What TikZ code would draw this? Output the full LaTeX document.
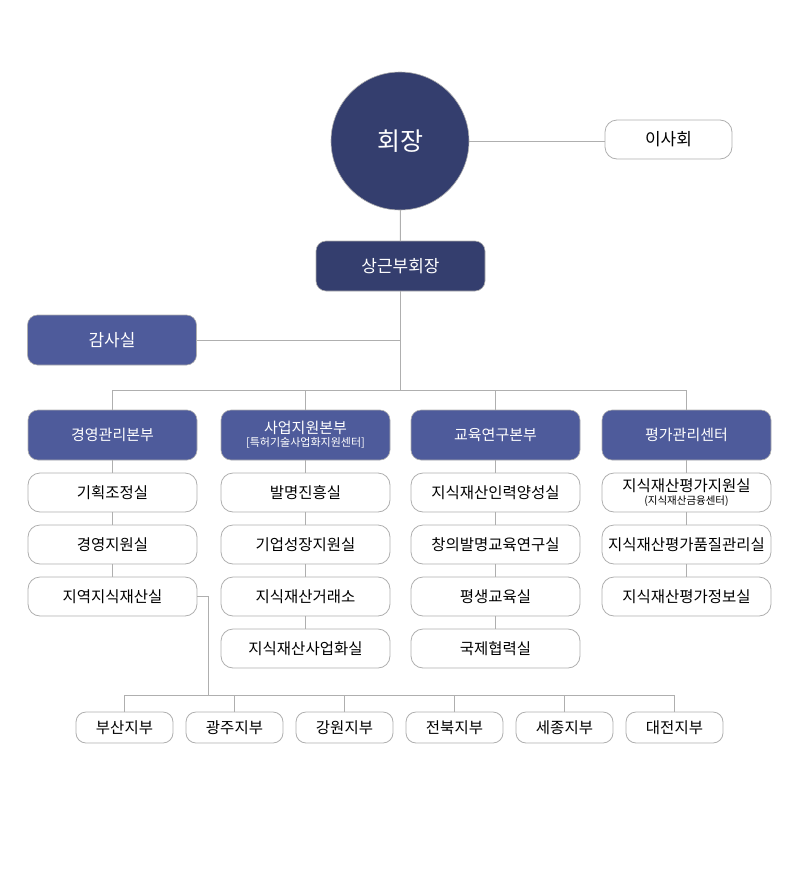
\documentclass[tikz,border=0pt]{standalone}
\usepackage{fontspec}
\setmainfont{Noto Sans CJK KR}
\usetikzlibrary{positioning}
\definecolor{navy}{RGB}{52,62,110}
\definecolor{slate}{RGB}{78,91,155}
\definecolor{edge}{RGB}{175,175,175}
\newcommand{\fs}[1]{\fontsize{#1}{#1}\selectfont}
\tikzset{
        every node/.style={align=center,outer sep=0pt,inner sep=2pt},
        chief/.style={circle,fill=navy,draw=edge,line width=0.6pt,minimum size=138pt,text=white,font=\fs{25}},
        vice/.style={rounded corners=10pt,fill=navy,draw=edge,line width=0.6pt,minimum width=169pt,minimum height=50pt,text=white,font=\fs{17}},
        head/.style={rounded corners=10pt,fill=slate,draw=edge,line width=0.6pt,minimum width=169pt,minimum height=50pt,text=white,font=\fs{15}},
        unit/.style={rounded corners=12pt,fill=white,draw=edge,line width=0.8pt,minimum width=169pt,minimum height=39pt,font=\fs{15.5}},
        branch/.style={rounded corners=10pt,fill=white,draw=edge,line width=0.8pt,minimum width=97pt,minimum height=31pt,font=\fs{15.5}},
        link/.style={draw=edge,line width=1pt},
        }

\begin{document}
\begin{tikzpicture}[x=1pt,y=-1pt]
			\useasboundingbox (0,0) rectangle (800,889);

			% top
			\node [chief] (chair) at (400,141) {회장};
			\node [unit,minimum width=127pt,font=\fs{17}] (board) at (668.5,139.5) {이사회};
			\node [vice] (vice) at (400.5,266) {상근부회장};
			\node [head,font=\fs{17}] (audit) at (112,340) {감사실};

			\draw [link] (chair.east) -- (chair.east -| board.west);
			\draw [link] (chair) -- (vice);
			\coordinate (bus) at (400.5,390);
			\draw [link] (vice.south) -- (bus);
			\draw [link] (audit.east) -- (audit.east -| vice.south);

			% divisions
			\node [head] (mgmt) at (112.5,435) {경영관리본부};
			\node [head] (biz) at (305.5,435) {사업지원본부\\[-2pt]{\fs{11}[특허기술사업화지원센터]}};
			\node [head] (edu) at (495.5,435) {교육연구본부};
			\node [head] (eval) at (686.5,435) {평가관리센터};

			\draw [link] (mgmt.north) |- (eval.north |- bus) -- (eval.north);
			\draw [link] (biz.north) -- (biz.north |- bus);
			\draw [link] (edu.north) -- (edu.north |- bus);

			% 경영관리본부
			\node [unit] (mgmtA) at (112.5,492.5) {기획조정실};
			\node [unit] (mgmtB) at (112.5,544.5) {경영지원실};
			\node [unit] (mgmtC) at (112.5,596.5) {지역지식재산실};
			\draw [link] (mgmt) -- (mgmtA);
			\draw [link] (mgmtA) -- (mgmtB);
			\draw [link] (mgmtB) -- (mgmtC);

			% 사업지원본부
			\node [unit] (bizA) at (305.5,492.5) {발명진흥실};
			\node [unit] (bizB) at (305.5,544.5) {기업성장지원실};
			\node [unit] (bizC) at (305.5,596.5) {지식재산거래소};
			\node [unit] (bizD) at (305.5,648.5) {지식재산사업화실};
			\draw [link] (biz) -- (bizA);
			\draw [link] (bizA) -- (bizB);
			\draw [link] (bizB) -- (bizC);
			\draw [link] (bizC) -- (bizD);

			% 교육연구본부
			\node [unit] (eduA) at (495.5,492.5) {지식재산인력양성실};
			\node [unit] (eduB) at (495.5,544.5) {창의발명교육연구실};
			\node [unit] (eduC) at (495.5,596.5) {평생교육실};
			\node [unit] (eduD) at (495.5,648.5) {국제협력실};
			\draw [link] (edu) -- (eduA);
			\draw [link] (eduA) -- (eduB);
			\draw [link] (eduB) -- (eduC);
			\draw [link] (eduC) -- (eduD);

			% 평가관리센터
			\node [unit] (evalA) at (686.5,492.5) {지식재산평가지원실\\[-3pt]{\fs{10.5}(지식재산금융센터)}};
			\node [unit] (evalB) at (686.5,544.5) {지식재산평가품질관리실};
			\node [unit] (evalC) at (686.5,596.5) {지식재산평가정보실};
			\draw [link] (eval) -- (evalA);
			\draw [link] (evalA) -- (evalB);
			\draw [link] (evalB) -- (evalC);

			% 지부
			\node [branch] (busan) at (124.5,727.5) {부산지부};
			\node [branch] (gwangju) at (234.5,727.5) {광주지부};
			\node [branch] (gangwon) at (344.5,727.5) {강원지부};
			\node [branch] (jeonbuk) at (454.5,727.5) {전북지부};
			\node [branch] (sejong) at (564.5,727.5) {세종지부};
			\node [branch] (daejeon) at (674.5,727.5) {대전지부};

			\coordinate (drop) at (208,695);
			\draw [link] (mgmtC.east) -| (drop);
			\draw [link] (busan.north) |- (daejeon.north |- drop) -- (daejeon.north);
			\draw [link] (gwangju.north) -- (gwangju.north |- drop);
			\draw [link] (gangwon.north) -- (gangwon.north |- drop);
			\draw [link] (jeonbuk.north) -- (jeonbuk.north |- drop);
			\draw [link] (sejong.north) -- (sejong.north |- drop);
		\end{tikzpicture}
\end{document}
